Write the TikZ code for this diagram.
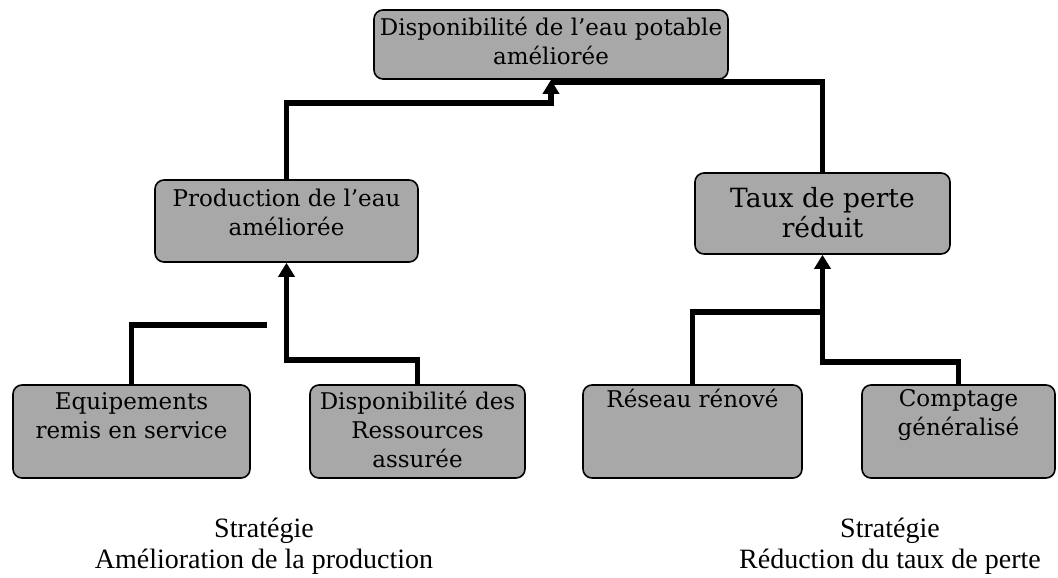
\documentclass[tikz,border=0pt]{standalone}
\usepackage{fontspec}
\setmainfont{DejaVu Serif}
\newfontfamily\capfont{Liberation Serif}
\usetikzlibrary{arrows.meta}
\definecolor{boxgray}{RGB}{168,168,168}
\begin{document}
\begin{tikzpicture}[x=1pt,y=-1pt,
  box/.style={draw=black, line width=1.6pt, rounded corners=9pt, fill=boxgray,
              inner sep=0pt, minimum height=93pt},
  lbl/.style={align=center, anchor=base, inner sep=0pt,
              font=\fontsize{23}{29}\selectfont},
  biglbl/.style={lbl, font=\fontsize{26.5}{30}\selectfont},
  caption/.style={align=center, anchor=base, inner sep=0pt,
              font=\capfont\fontsize{28}{31}\selectfont},
  conn/.style={line width=5.5pt},
  arr/.style={-{Triangle[width=16pt,length=14pt]}}]

\useasboundingbox (0,0) rectangle (1058,578);

% joints of the connectors
\coordinate (ktop)   at (551,103);
\coordinate (kright) at (551,82);
\coordinate (kfree)  at (267,325);
\coordinate (kprod)  at (286.5,360);
\coordinate (ktaux1) at (822.5,312);
\coordinate (ktaux2) at (822.5,362);

% boxes
\node[box, minimum width=354pt, minimum height=69pt] (top)    at (551,44.5) {};
\node[box, minimum width=263pt, minimum height=82pt] (prod)   at (286.5,221) {};
\node[box, minimum width=255pt, minimum height=81pt] (taux)   at (822.5,213.5) {};
\node[box, minimum width=237pt] (equip)  at (131.5,431.5) {};
\node[box, minimum width=215pt] (dispo)  at (417.5,431.5) {};
\node[box, minimum width=219pt] (reseau) at (692.5,431.5) {};
\node[box, minimum width=193pt] (compt)  at (958.5,431.5) {};

% connectors
\draw[conn,arr] (prod.north) |- (ktop) -- (top.south);
\draw[conn] (taux.north) |- (kright);
\draw[conn] (equip.north) |- (kfree);
\draw[conn,arr] (dispo.north) |- (kprod) -- (prod.south);
\draw[conn] (reseau.north) |- (ktaux1);
\draw[conn,arr] (compt.north) |- (ktaux2) -- (taux.south);

% box texts (anchored at the baseline of the last line)
\node[lbl] (ltop)    at (551,65)    {Disponibilité de l'eau potable\\améliorée};
\node[lbl] (lprod)   at (286.5,235) {Production de l'eau\\améliorée};
\node[biglbl] (ltaux) at (822.5,237) {Taux de perte\\réduit};
\node[lbl] (lequip)  at (131.5,438) {Equipements\\remis en service};
\node[lbl] (ldispo)  at (417.5,467) {Disponibilité des\\Ressources\\assurée};
\node[lbl] (lreseau) at (692.5,407) {Réseau rénové};
\node[lbl] (lcompt)  at (958.5,435) {Comptage\\généralisé};

% strategy captions
\node[caption] (capl) at (264,568) {Stratégie\\Amélioration de la production};
\node[caption] (capr) at (890,568) {Stratégie\\Réduction du taux de perte};
\end{tikzpicture}
\end{document}
